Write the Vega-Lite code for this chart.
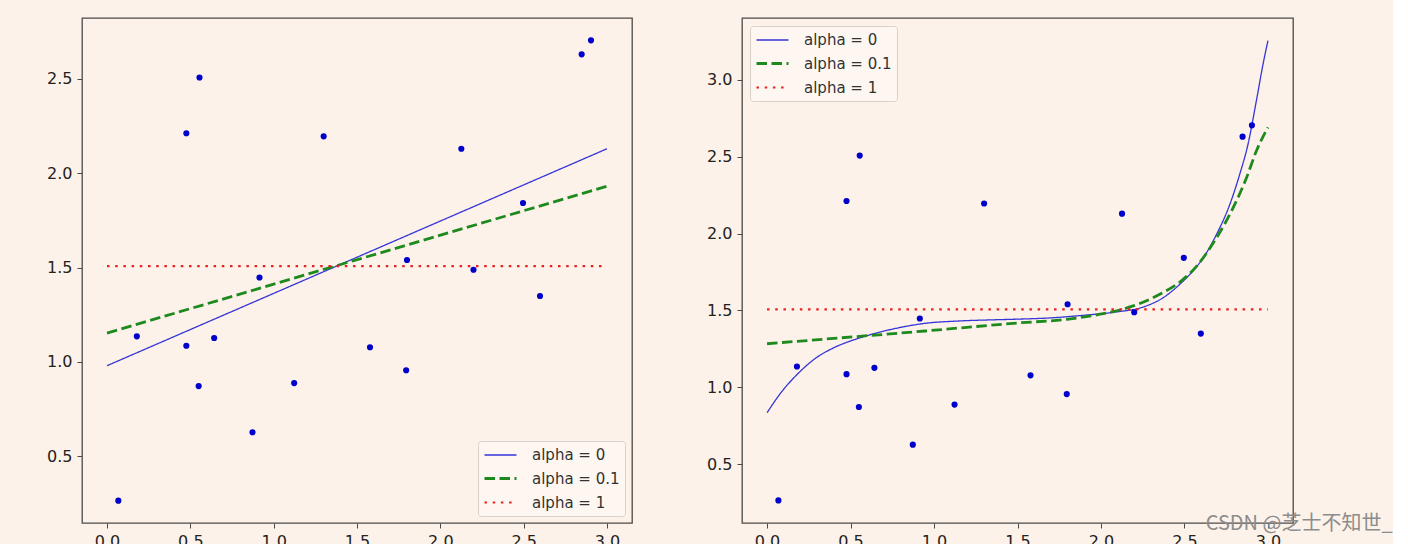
{
  "$schema": "https://vega.github.io/schema/vega-lite/v6.json",
  "background": "#fdf2e9",
  "padding": {"left": 45, "top": 17, "right": 0, "bottom": 0},
  "spacing": 72,
  "title": {
    "text": "CSDN @芝士不知世_",
    "orient": "bottom",
    "anchor": "end",
    "frame": "bounds",
    "font": "Noto Sans CJK SC",
    "fontSize": 20,
    "fontWeight": "normal",
    "color": "#8c8c8c",
    "offset": 0,
    "dy": -36,
    "dx": 99
  },
  "datasets": {
    "pts": [
      {"x": 0.068, "y": 0.263}, {"x": 0.179, "y": 1.135}, {"x": 0.476, "y": 2.212}, {"x": 0.555, "y": 2.508},
      {"x": 0.476, "y": 1.085}, {"x": 0.643, "y": 1.126}, {"x": 0.55, "y": 0.871}, {"x": 0.873, "y": 0.626},
      {"x": 0.915, "y": 1.447}, {"x": 1.123, "y": 0.887}, {"x": 1.3, "y": 2.196}, {"x": 1.578, "y": 1.077},
      {"x": 1.795, "y": 0.955}, {"x": 1.8, "y": 1.54}, {"x": 2.126, "y": 2.13}, {"x": 2.199, "y": 1.488},
      {"x": 2.496, "y": 1.842}, {"x": 2.598, "y": 1.349}, {"x": 2.848, "y": 2.631}, {"x": 2.904, "y": 2.705}
    ],
    "linear": [
      {"series": "alpha = 0", "x": 0, "y": 0.979}, {"series": "alpha = 0", "x": 3, "y": 2.13},
      {"series": "alpha = 0.1", "x": 0, "y": 1.152}, {"series": "alpha = 0.1", "x": 3, "y": 1.931},
      {"series": "alpha = 1", "x": 0, "y": 1.507}, {"series": "alpha = 1", "x": 3, "y": 1.507}
    ],
    "poly": [
      {"series": "alpha = 0", "x": 0, "y": 0.834}, {"series": "alpha = 0", "x": 0.091, "y": 0.975},
      {"series": "alpha = 0", "x": 0.181, "y": 1.084}, {"series": "alpha = 0", "x": 0.29, "y": 1.188},
      {"series": "alpha = 0", "x": 0.41, "y": 1.262}, {"series": "alpha = 0", "x": 0.53, "y": 1.312},
      {"series": "alpha = 0", "x": 0.649, "y": 1.351}, {"series": "alpha = 0", "x": 0.789, "y": 1.387},
      {"series": "alpha = 0", "x": 0.948, "y": 1.416}, {"series": "alpha = 0", "x": 1.147, "y": 1.431},
      {"series": "alpha = 0", "x": 1.366, "y": 1.439}, {"series": "alpha = 0", "x": 1.5, "y": 1.443},
      {"series": "alpha = 0", "x": 1.695, "y": 1.451}, {"series": "alpha = 0", "x": 1.894, "y": 1.468},
      {"series": "alpha = 0", "x": 2.093, "y": 1.49}, {"series": "alpha = 0", "x": 2.253, "y": 1.522},
      {"series": "alpha = 0", "x": 2.373, "y": 1.583}, {"series": "alpha = 0", "x": 2.472, "y": 1.67},
      {"series": "alpha = 0", "x": 2.542, "y": 1.746}, {"series": "alpha = 0", "x": 2.612, "y": 1.841},
      {"series": "alpha = 0", "x": 2.691, "y": 1.993}, {"series": "alpha = 0", "x": 2.771, "y": 2.188},
      {"series": "alpha = 0", "x": 2.83, "y": 2.383}, {"series": "alpha = 0", "x": 2.88, "y": 2.579},
      {"series": "alpha = 0", "x": 2.93, "y": 2.861}, {"series": "alpha = 0", "x": 2.97, "y": 3.1},
      {"series": "alpha = 0", "x": 3.0, "y": 3.256},
      {"series": "alpha = 0.1", "x": 0, "y": 1.283}, {"series": "alpha = 0.1", "x": 0.45, "y": 1.322},
      {"series": "alpha = 0.1", "x": 0.948, "y": 1.366}, {"series": "alpha = 0.1", "x": 1.5, "y": 1.418},
      {"series": "alpha = 0.1", "x": 1.795, "y": 1.442}, {"series": "alpha = 0.1", "x": 1.994, "y": 1.475},
      {"series": "alpha = 0.1", "x": 2.193, "y": 1.529}, {"series": "alpha = 0.1", "x": 2.352, "y": 1.605},
      {"series": "alpha = 0.1", "x": 2.492, "y": 1.702}, {"series": "alpha = 0.1", "x": 2.572, "y": 1.787},
      {"series": "alpha = 0.1", "x": 2.691, "y": 1.971}, {"series": "alpha = 0.1", "x": 2.791, "y": 2.167},
      {"series": "alpha = 0.1", "x": 2.871, "y": 2.362}, {"series": "alpha = 0.1", "x": 2.93, "y": 2.536},
      {"series": "alpha = 0.1", "x": 3.0, "y": 2.692},
      {"series": "alpha = 1", "x": 0, "y": 1.507}, {"series": "alpha = 1", "x": 3, "y": 1.507}
    ]
  },
  "hconcat": [
    {
      "width": 550,
      "height": 505,
      "layer": [
        {
          "data": {"name": "linear"},
          "mark": {"type": "line", "clip": true},
          "encoding": {
            "x": {"field": "x", "type": "quantitative", "scale": {"domain": [-0.15, 3.15], "nice": false, "zero": false}, "axis": {"values": [0, 0.5, 1, 1.5, 2, 2.5, 3], "format": ".1f"}},
            "y": {"field": "y", "type": "quantitative", "scale": {"domain": [0.1446, 2.8236], "nice": false, "zero": false}, "axis": {"values": [0.5, 1, 1.5, 2, 2.5], "format": ".1f"}},
            "color": {"field": "series", "type": "nominal", "scale": {"domain": ["alpha = 0", "alpha = 0.1", "alpha = 1"], "range": ["#3535d8", "#1e8a1e", "#e52222"]}, "legend": {"title": null, "orient": "bottom-right", "offset": 7, "symbolType": "M-1,0H3", "symbolSize": 256}},
            "strokeDash": {"field": "series", "type": "nominal", "scale": {"domain": ["alpha = 0", "alpha = 0.1", "alpha = 1"], "range": [[1, 0], [10.5, 4.5], [2.5, 5.7]]}, "legend": {"title": null, "orient": "bottom-right", "offset": 7, "symbolType": "M-1,0H3", "symbolSize": 256}},
            "strokeWidth": {"field": "series", "type": "nominal", "scale": {"type": "ordinal", "domain": ["alpha = 0", "alpha = 0.1", "alpha = 1"], "range": [1.3, 2.8, 2.2]}, "legend": {"title": null, "orient": "bottom-right", "offset": 7, "symbolType": "M-1,0H3", "symbolSize": 256}}
          }
        },
        {
          "data": {"name": "pts"},
          "mark": {"type": "point", "filled": true, "size": 38, "color": "#0000cc", "opacity": 1},
          "encoding": {
            "x": {"field": "x", "type": "quantitative"},
            "y": {"field": "y", "type": "quantitative"}
          }
        }
      ]
    },
    {
      "width": 551,
      "height": 505,
      "layer": [
        {
          "data": {"name": "poly"},
          "mark": {"type": "line", "clip": true, "interpolate": "monotone"},
          "encoding": {
            "x": {"field": "x", "type": "quantitative", "scale": {"domain": [-0.15, 3.15], "nice": false, "zero": false}, "axis": {"values": [0, 0.5, 1, 1.5, 2, 2.5, 3], "format": ".1f"}},
            "y": {"field": "y", "type": "quantitative", "scale": {"domain": [0.1159, 3.4036], "nice": false, "zero": false}, "axis": {"values": [0.5, 1, 1.5, 2, 2.5, 3], "format": ".1f"}},
            "color": {"field": "series", "type": "nominal", "scale": {"domain": ["alpha = 0", "alpha = 0.1", "alpha = 1"], "range": ["#3535d8", "#1e8a1e", "#e52222"]}, "legend": {"title": null, "orient": "top-left", "offset": 8, "symbolType": "M-1,0H3", "symbolSize": 256}},
            "strokeDash": {"field": "series", "type": "nominal", "scale": {"domain": ["alpha = 0", "alpha = 0.1", "alpha = 1"], "range": [[1, 0], [10.5, 4.5], [2.5, 5.7]]}, "legend": {"title": null, "orient": "top-left", "offset": 8, "symbolType": "M-1,0H3", "symbolSize": 256}},
            "strokeWidth": {"field": "series", "type": "nominal", "scale": {"type": "ordinal", "domain": ["alpha = 0", "alpha = 0.1", "alpha = 1"], "range": [1.3, 2.8, 2.2]}, "legend": {"title": null, "orient": "top-left", "offset": 8, "symbolType": "M-1,0H3", "symbolSize": 256}}
          }
        },
        {
          "data": {"name": "pts"},
          "mark": {"type": "point", "filled": true, "size": 38, "color": "#0000cc", "opacity": 1},
          "encoding": {
            "x": {"field": "x", "type": "quantitative"},
            "y": {"field": "y", "type": "quantitative"}
          }
        }
      ]
    }
  ],
  "resolve": {
    "scale": {"x": "independent", "y": "independent", "color": "independent", "strokeDash": "independent", "strokeWidth": "independent"},
    "legend": {"color": "independent", "strokeDash": "independent", "strokeWidth": "independent"},
    "axis": {"x": "independent", "y": "independent"}
  },
  "config": {
    "view": {"stroke": "#4a4a4a", "strokeWidth": 1.3, "fill": "#fdf2e9"},
    "axis": {"domain": false, "grid": false, "tickColor": "#4a4a4a", "tickSize": 5, "tickWidth": 1, "labelColor": "#222222", "labelFont": "DejaVu Sans", "labelFontSize": 16, "labelPadding": 5, "title": null},
    "legend": {"padding": 5, "rowPadding": 6, "labelOffset": 30, "fillColor": "#fef7f1", "strokeColor": "#d8d2cc", "cornerRadius": 3, "labelFont": "DejaVu Sans", "labelFontSize": 15, "labelColor": "#333333", "labelLimit": 300}
  }
}
